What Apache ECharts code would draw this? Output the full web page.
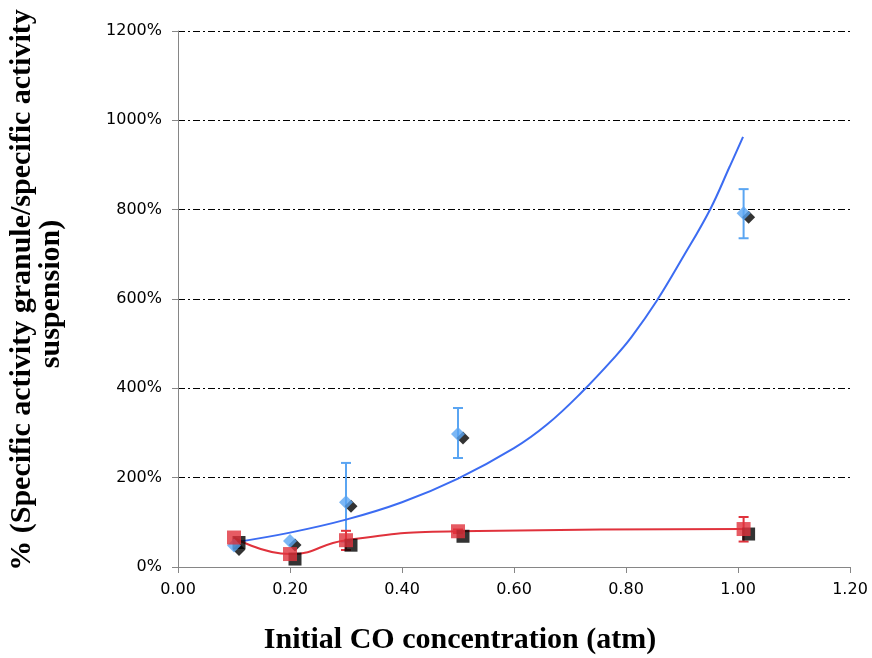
<!DOCTYPE html>
<html>
<head>
<meta charset="utf-8">
<script src="https://cdn.jsdelivr.net/npm/echarts@6/dist/echarts.min.js"></script>
<style>
  html, body { margin: 0; padding: 0; background: #fff; }
  #chart { width: 872px; height: 658px; }
</style>
</head>
<body>
<div id="chart"></div>
<script>
// x values (atm)
const blueX = [0.10, 0.20, 0.30, 0.50, 1.01];
const blueY = [48, 58, 145, 298, 792];
const blueLow = [null, null, 57, 244, 736];
const blueHigh = [null, null, 233, 356, 846];

const redX = [0.10, 0.20, 0.30, 0.50, 1.01];
const redY = [66, 29, 60, 80, 85];
const redLow = [null, null, 38, 76, 57];
const redHigh = [null, null, 81, 84, 112];

// exponential trend line
const trendX = [0.105, 0.20, 0.30, 0.40, 0.50, 0.60, 0.66, 0.72, 0.78, 0.81, 0.855, 0.90, 0.95, 0.985, 1.009];
const trendY = [56, 77, 106, 145, 198, 266, 320, 390, 470, 515, 596, 690, 800, 896, 963];

const xTicks = [0, 0.2, 0.4, 0.6, 0.8, 1.0, 1.2];
const yTicks = [0, 200, 400, 600, 800, 1000, 1200];

const 蓝 = "#5aa5f2";
const 趋势蓝 = "#3c6cf2";
const 红 = "#e0323c";

const pairs = (xs, ys) => xs.map((x, i) => [x, ys[i]]);
const errData = (xs, lo, hi) =>
  xs.map((x, i) => [x, lo[i], hi[i]]).filter((d) => d[1] !== null);

function 误差棒(color) {
  return function (params, api) {
    const lo = api.coord([api.value(0), api.value(1)]);
    const hi = api.coord([api.value(0), api.value(2)]);
    const w = 5;
    const style = { stroke: color, lineWidth: 2 };
    return {
      type: "group",
      children: [
        { type: "line", shape: { x1: lo[0], y1: lo[1], x2: hi[0], y2: hi[1] }, style },
        { type: "line", shape: { x1: lo[0] - w, y1: lo[1], x2: lo[0] + w, y2: lo[1] }, style },
        { type: "line", shape: { x1: hi[0] - w, y1: hi[1], x2: hi[0] + w, y2: hi[1] }, style },
      ],
    };
  };
}

const 标题字体 = "bold 30px 'Liberation Serif'";

const myChart = echarts.init(document.getElementById("chart"));

const option = {
  backgroundColor: "#fff",
  animation: false,
  grid: { left: 178, right: 22, top: 31, bottom: 91, containLabel: false, outerBoundsMode: "none" },
  xAxis: {
    type: "value",
    min: 0,
    max: 1.2,
    interval: 0.2,
    axisLine: { lineStyle: { color: "#868686", width: 1 } },
    axisTick: { show: true, length: 6, lineStyle: { color: "#868686" } },
    axisLabel: {
      color: "#000",
      fontFamily: "DejaVu Sans",
      fontSize: 16,
      margin: 15,
      formatter: (v) => v.toFixed(2),
      customValues: xTicks,
    },
    splitLine: { show: false },
  },
  yAxis: {
    type: "value",
    min: 0,
    max: 1200,
    interval: 200,
    axisLine: { show: true, lineStyle: { color: "#868686", width: 1 } },
    axisTick: { show: true, length: 6, lineStyle: { color: "#868686" } },
    axisLabel: {
      color: "#000",
      fontFamily: "DejaVu Sans",
      fontSize: 16,
      margin: 16,
      formatter: (v) => v + "%",
      customValues: yTicks,
    },
    splitLine: {
      show: true,
      lineStyle: { color: "#000", width: 1, type: [7, 3, 2, 3] },
    },
  },
  graphic: [
    {
      type: "text",
      x: 460,
      y: 640,
      style: {
        text: "Initial CO concentration (atm)",
        fill: "#000",
        font: 标题字体,
        align: "center",
        verticalAlign: "middle",
      },
    },
    {
      type: "text",
      x: 22,
      y: 290,
      rotation: Math.PI / 2,
      style: {
        text: "% (Specific activity granule/specific activity",
        fill: "#000",
        font: 标题字体,
        align: "center",
        verticalAlign: "middle",
      },
    },
    {
      type: "text",
      x: 51,
      y: 294,
      rotation: Math.PI / 2,
      style: {
        text: "suspension)",
        fill: "#000",
        font: 标题字体,
        align: "center",
        verticalAlign: "middle",
      },
    },
  ],
  series: [
    {
      type: "custom",
      renderItem: 误差棒(蓝),
      data: errData(blueX, blueLow, blueHigh),
      z: 1,
    },
    {
      type: "custom",
      renderItem: 误差棒(红),
      data: errData(redX, redLow, redHigh),
      z: 1,
    },
    {
      type: "line",
      data: pairs(trendX, trendY),
      smooth: 0.4,
      showSymbol: false,
      lineStyle: { color: 趋势蓝, width: 2 },
      z: 2,
    },
    {
      type: "line",
      data: pairs(redX, redY),
      smooth: 0.5,
      showSymbol: false,
      lineStyle: { color: 红, width: 2 },
      z: 2,
    },
    {
      // 阴影
      type: "scatter",
      data: pairs(blueX, blueY),
      symbol: "diamond",
      symbolSize: 13,
      symbolOffset: [5, 4],
      itemStyle: { color: "#000" },
      z: 3,
    },
    {
      type: "scatter",
      data: pairs(redX, redY),
      symbol: "rect",
      symbolSize: 13,
      symbolOffset: [5, 5],
      itemStyle: { color: "#000" },
      z: 3,
    },
    {
      type: "scatter",
      data: pairs(blueX, blueY),
      symbol: "diamond",
      symbolSize: 14,
      itemStyle: { color: 蓝 },
      z: 4,
    },
    {
      type: "scatter",
      data: pairs(redX, redY),
      symbol: "rect",
      symbolSize: 14,
      itemStyle: { color: 红 },
      z: 4,
    },
  ],
};

myChart.setOption(option);
</script>
</body>
</html>
